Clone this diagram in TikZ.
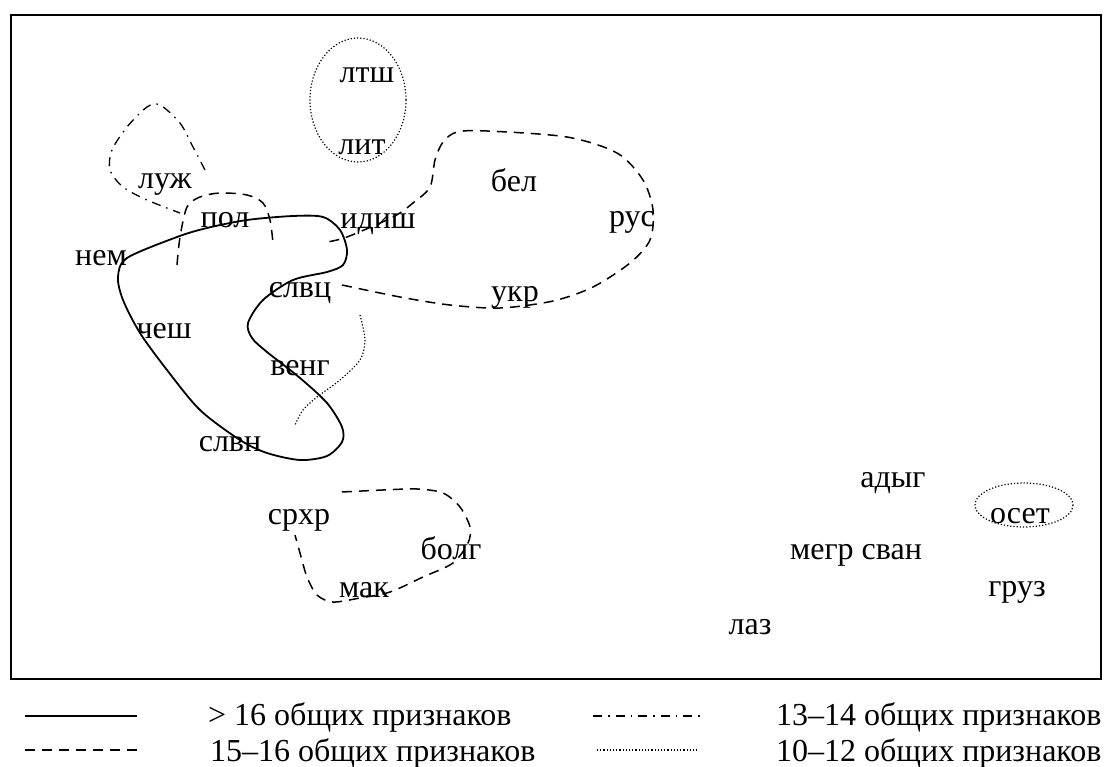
\documentclass[tikz,border=0pt]{standalone}
\usepackage{fontspec}
\setmainfont{Liberation Serif}
\usetikzlibrary{positioning}
\tikzset{
    lang/.style = {anchor=base, inner sep=0pt, font=\fontsize{32}{38}\selectfont},
    legtext/.style = {anchor=base west, inner sep=0pt, font=\fontsize{32}{38}\selectfont},
    grpa/.style = {line width=1.8pt}, % > 16
    grpb/.style = {line width=1.5pt, dash pattern=on 10pt off 7pt}, % 15-16
    grpc/.style = {line width=1.3pt, dash pattern=on 9pt off 6pt on 1.5pt off 6pt}, % 13-14
    grpd/.style = {line width=1.2pt, dash pattern=on 1.2pt off 2pt}, % 10-12
    frame/.style = {line width=2.5pt}
}

\begin{document}
\begin{tikzpicture}[x=1pt,y=-1pt]
\useasboundingbox (0,0) rectangle (1104,767);
%
\draw[frame] (11,15) rectangle (1101,679);
%
\node[lang] at (367, 83) (ltsh) {лтш};
\node[lang] at (362,155) (lit) {лит};
\node[lang] at (165,189) (luzh) {луж};
\node[lang] at (225,228) (pol) {пол};
\node[lang] at (378,229) (idish) {идиш};
\node[lang] at (514,192) (bel) {бел};
\node[lang] at (632,227) (rus) {рус};
\node[lang] at (101,266) (nem) {нем};
\node[lang] at (300,298) (slvc) {слвц};
\node[lang] at (515,302) (ukr) {укр};
\node[lang] at (164,339) (chesh) {чеш};
\node[lang] at (300,376) (veng) {венг};
\node[lang] at (230,451) (slvn) {слвн};
\node[lang] at (299,524) (srhr) {срхр};
\node[lang] at (451,559) (bolg) {болг};
\node[lang] at (364,597) (mak) {мак};
\node[lang] at (893,487) (adyg) {адыг};
\node[lang] at (1020,523) (oset) {осет};
\node[lang] at (856,559) (megr) {мегр сван};
\node[lang] at (1017,596) (gruz) {груз};
\node[lang] at (750,634) (laz) {лаз};
%
% > 16
\draw[grpa] plot[smooth cycle] coordinates {(127,258) (177,237) (207,228) (247,220)
    (293,216) (323,217) (340,230) (347,250) (343,265) (327,272) (293,280) (263,300)
    (248,323) (252,338) (267,352) (300,378) (327,403) (342,427) (342,442) (327,456)
    (300,460) (267,453) (240,440) (200,410) (167,370) (140,333) (123,300) (118,277)};
% 15-16
\draw[grpb] plot[smooth] coordinates {(342,285) (400,297) (450,305) (500,308) (553,301)
    (593,287) (630,263) (650,240) (653,210) (643,180) (617,153) (567,137) (487,131)
    (457,132) (443,142) (435,160) (430,187) (413,203) (393,217) (347,237) (327,242)};
\draw[grpb] plot[smooth] coordinates {(177,265) (180,237) (187,207) (200,197) (220,193)
    (247,195) (263,203) (270,220) (273,243)};
\draw[grpb] plot[smooth] coordinates {(342,492) (383,490) (417,489) (443,493) (460,507)
    (470,527) (468,543) (453,563) (423,577) (390,592) (360,598) (333,602) (317,595)
    (307,577) (300,553) (295,535)};
% 13-14
\draw[grpc] plot[smooth] coordinates {(205,170) (193,147) (180,123) (160,105) (147,107)
    (127,127) (112,150) (110,170) (123,187) (147,200) (180,213)};
% 10-12
\draw[grpd] (358,100) ellipse (48 and 62);
\draw[grpd] (1024,505) ellipse (49 and 22);
\draw[grpd] plot[smooth] coordinates {(360,315) (365,340) (360,360) (340,380) (317,397)
    (303,410) (295,425)};
%
% legend
\draw[grpa] (25,716) -- (137,716);
\draw[grpb] (25,750) -- (137,750);
\draw[grpc] (593,716) -- (702,716);
\draw[grpd] (597,750) -- (698,750);
\node[legtext] at (208,725) (la) {> 16 общих признаков};
\node[legtext] at (210,761) (lb) {15–16 общих признаков};
\node[legtext] at (776,725) (lc) {13–14 общих признаков};
\node[legtext] at (776,761) (ld) {10–12 общих признаков};

\end{tikzpicture}
\end{document}
